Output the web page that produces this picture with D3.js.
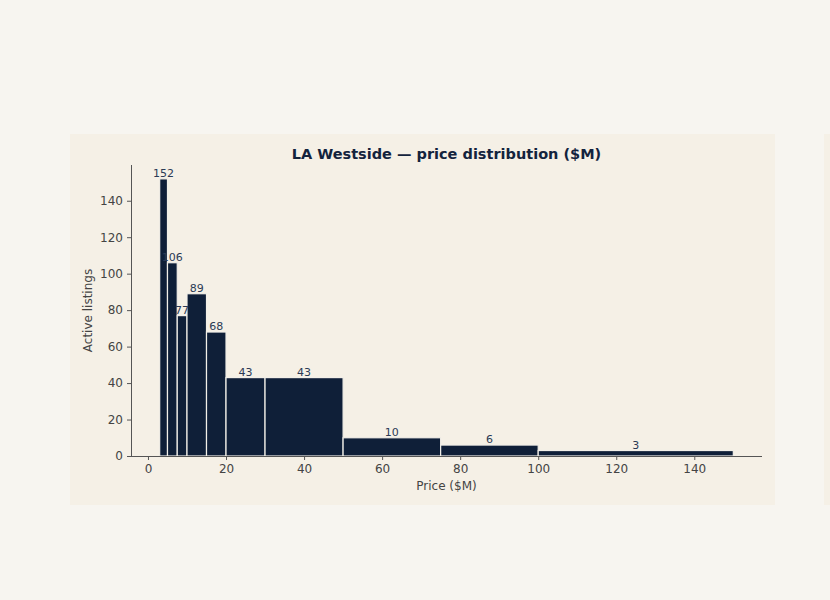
<!DOCTYPE html>
<html lang="en">
<head>
<meta charset="UTF-8">
<title>LA Westside price distribution</title>
<script src="https://d3js.org/d3.v7.min.js"></script>
<style>
  body { margin: 0; background: #f7f5f0; }
  text { font-family: "DejaVu Sans", sans-serif; }
</style>
</head>
<body>
<div id="chart"></div>
<script>
// bin edges ($M) and counts per bin
var binEdges = [3, 5, 7.5, 10, 15, 20, 30, 50, 75, 100, 150];
var counts = [152, 106, 77, 89, 68, 43, 43, 10, 6, 3];
var xTicks = [0, 20, 40, 60, 80, 100, 120, 140];
var yTicks = [0, 20, 40, 60, 80, 100, 120, 140];

var bins = counts.map(function (c, i) {
  return { x0: binEdges[i], x1: binEdges[i + 1], n: c };
});

var W = 830, H = 600;
var margin = { top: 165, right: 68, bottom: 144, left: 131 };

var svg = d3.select("#chart").append("svg")
  .attr("width", W).attr("height", H);

// panel background
svg.append("rect").attr("x", 70).attr("y", 134).attr("width", 705).attr("height", 371)
  .attr("fill", "#f5f0e6");
svg.append("rect").attr("x", 824).attr("y", 134).attr("width", 6).attr("height", 371)
  .attr("fill", "#f5f0e6");

var span = binEdges[binEdges.length - 1] - binEdges[0];
var x = d3.scaleLinear()
  .domain([binEdges[0] - span * 0.05, binEdges[binEdges.length - 1] + span * 0.05])
  .range([margin.left, W - margin.right]);

var y = d3.scaleLinear()
  .domain([0, d3.max(counts) * 1.05])
  .range([H - margin.bottom, margin.top]);

svg.append("g").selectAll("rect").data(bins).join("rect")
  .attr("x", function (d) { return x(d.x0); })
  .attr("y", function (d) { return y(d.n); })
  .attr("width", function (d) { return x(d.x1) - x(d.x0); })
  .attr("height", function (d) { return y(0) - y(d.n); })
  .attr("fill", "#0f1f38")
  .attr("stroke", "#f2efe8")
  .attr("stroke-width", 1.2);

svg.append("g").selectAll("text").data(bins).join("text")
  .attr("x", function (d) { return x((d.x0 + d.x1) / 2); })
  .attr("y", function (d) { return y(d.n) - 2; })
  .attr("text-anchor", "middle")
  .attr("font-size", "11px")
  .attr("fill", "#2b3a55")
  .text(function (d) { return d.n; });

var xAxis = svg.append("g")
  .attr("transform", "translate(0," + (H - margin.bottom) + ")")
  .call(d3.axisBottom(x).tickValues(xTicks).tickSize(4).tickPadding(4));

var yAxis = svg.append("g")
  .attr("transform", "translate(" + margin.left + ",0)")
  .call(d3.axisLeft(y).tickValues(yTicks).tickSize(4).tickPadding(4));

[xAxis, yAxis].forEach(function (g) {
  g.select(".domain").attr("stroke", "#555");
  g.selectAll(".tick line").attr("stroke", "#555");
  g.selectAll(".tick text").attr("fill", "#444").attr("font-size", "12px")
    .attr("font-family", "DejaVu Sans, sans-serif");
});
// matplotlib-style spines: no end caps
xAxis.select(".domain").attr("d", "M" + margin.left + ",0.5H" + (W - margin.right));
yAxis.select(".domain").attr("d", "M0.5," + (H - margin.bottom) + "V" + margin.top);

svg.append("text")
  .attr("x", (margin.left + W - margin.right) / 2)
  .attr("y", 490)
  .attr("text-anchor", "middle")
  .attr("font-size", "12px")
  .attr("fill", "#444")
  .text("Price ($M)");

svg.append("text")
  .attr("transform", "translate(92," + ((H - margin.bottom + margin.top) / 2) + ") rotate(-90)")
  .attr("text-anchor", "middle")
  .attr("font-size", "12px")
  .attr("fill", "#444")
  .text("Active listings");

svg.append("text")
  .attr("x", (margin.left + W - margin.right) / 2)
  .attr("y", 159)
  .attr("text-anchor", "middle")
  .attr("font-size", "14.5px")
  .attr("font-weight", "bold")
  .attr("fill", "#13233d")
  .text("LA Westside — price distribution ($M)");
</script>
</body>
</html>
